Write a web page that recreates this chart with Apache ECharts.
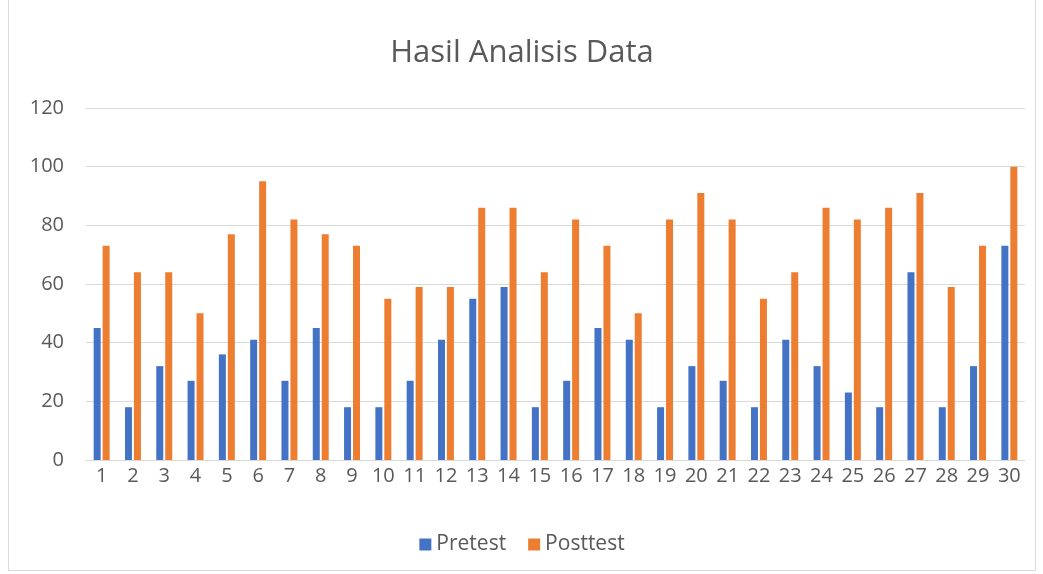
<!DOCTYPE html>
<html>
<head>
<meta charset="utf-8">
<script src="https://cdn.jsdelivr.net/npm/echarts@6/dist/echarts.min.js"></script>
<style>
  html, body { margin: 0; padding: 0; background: #fff; }
  #chart { position: absolute; left: 8px; top: 0; width: 1028px; height: 571px;
           border: 1px solid #d9d9d9; border-top: none; box-sizing: border-box; }
</style>
</head>
<body>
<div id="chart"></div>
<script>
// data
const categories = ['1','2','3','4','5','6','7','8','9','10','11','12','13','14','15',
  '16','17','18','19','20','21','22','23','24','25','26','27','28','29','30']
const pretest = [45, 18, 32, 27, 36, 41, 27, 45, 18, 18, 27, 41, 55, 59, 18,
  27, 45, 41, 18, 32, 27, 18, 41, 32, 23, 18, 64, 18, 32, 73]
const posttest = [73, 64, 64, 50, 77, 95, 82, 77, 73, 55, 59, 59, 86, 86, 64,
  82, 73, 50, 82, 91, 82, 55, 64, 86, 82, 86, 91, 59, 73, 100]
const yTicks = [0, 20, 40, 60, 80, 100, 120]

const font = '"Open Sans", "Noto Sans", sans-serif'
const chart = echarts.init(document.getElementById('chart'))

chart.setOption({
  animation: false,
  title: {
    text: 'Hasil Analisis Data',
    left: 'center',
    top: 33,
    textStyle: { fontFamily: font, fontSize: 31, fontWeight: 'normal', color: '#595959' },
  },
  legend: {
    data: ['Pretest', 'Posttest'],
    bottom: 10,
    left: 'center',
    itemWidth: 12,
    itemHeight: 12,
    itemGap: 22,
    icon: 'rect',
    textStyle: { fontFamily: font, fontSize: 21, color: '#595959' },
  },
  grid: {
    left: 77,
    right: 10,
    top: 108,
    bottom: 110,
    containLabel: false,
  },
  xAxis: {
    type: 'category',
    data: categories,
    axisTick: { show: false },
    axisLine: { lineStyle: { color: '#d9d9d9', width: 1 } },
    axisLabel: { fontFamily: font, fontSize: 20, color: '#595959', margin: 6, interval: 0 },
  },
  yAxis: {
    type: 'value',
    min: yTicks[0],
    max: yTicks[yTicks.length - 1],
    interval: 20,
    axisLine: { show: false },
    axisTick: { show: false },
    splitLine: { lineStyle: { color: '#d9d9d9', width: 1 } },
    axisLabel: { fontFamily: font, fontSize: 20, color: '#595959', margin: 22 },
  },
  series: [
    {
      name: 'Pretest',
      type: 'bar',
      data: pretest,
      barWidth: 7,
      barGap: '28%',
      itemStyle: { color: '#4472c4' },
    },
    {
      name: 'Posttest',
      type: 'bar',
      data: posttest,
      barWidth: 7,
      itemStyle: { color: '#ed7d31' },
    },
  ],
})
</script>
</body>
</html>
